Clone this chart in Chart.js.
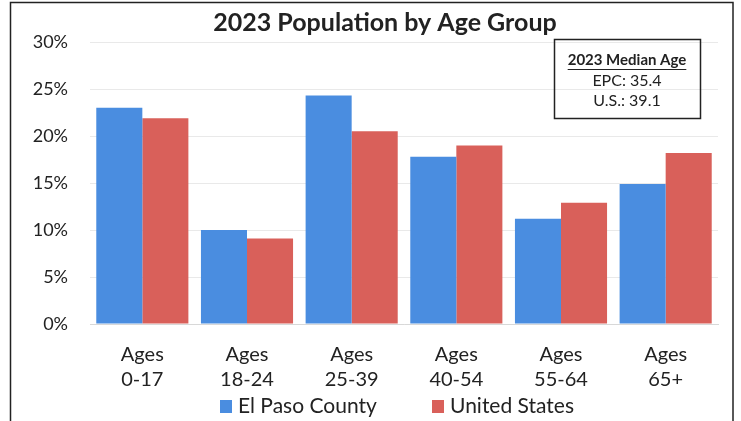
<!DOCTYPE html>
<html>
<head>
<meta charset="utf-8">
<script src="https://cdn.jsdelivr.net/npm/chart.js@4/dist/chart.umd.min.js"></script>
<style>
  html, body { margin: 0; padding: 0; background: #fff; }
  #wrap { width: 741px; height: 421px; position: relative; }
</style>
</head>
<body>
<div id="wrap"><canvas id="popChart" width="741" height="421"></canvas></div>
<script>
  // chart data
  const categories = [['Ages', '0-17'], ['Ages', '18-24'], ['Ages', '25-39'], ['Ages', '40-54'], ['Ages', '55-64'], ['Ages', '65+']];
  const elPasoValues = [23.0, 10.0, 24.3, 17.8, 11.2, 14.9];
  const usValues = [21.9, 9.1, 20.5, 19.0, 12.9, 18.2];
  const seriesNames = ['El Paso County', 'United States'];
  const medianLines = ['2023 Median Age', 'EPC: 35.4', 'U.S.: 39.1'];

  const BLUE = '#4a8de0';
  const RED = '#d9605a';
  const FONT = 'Lato, "Open Sans", sans-serif';

  // title, inset box, legend and frame drawn by hand
  const extras = {
    id: 'extras',
    afterDraw(chart) {
      const ctx = chart.ctx;
      ctx.save();
      // outer frame
      ctx.strokeStyle = '#222';
      ctx.lineWidth = 1.5;
      ctx.strokeRect(10.5, 2.5, 722.5, 430);

      // title
      ctx.fillStyle = '#222';
      ctx.font = 'bold 25px ' + FONT;
      ctx.textAlign = 'center';
      ctx.textBaseline = 'middle';
      ctx.fillText('2023 Population by Age Group', 385, 23);

      // median age box
      ctx.lineWidth = 1.5;
      ctx.strokeRect(554.5, 39.5, 146, 79);
      ctx.font = 'bold 15px ' + FONT;
      ctx.fillText(medianLines[0], 627, 60);
      const w = ctx.measureText(medianLines[0]).width;
      ctx.lineWidth = 1;
      ctx.beginPath();
      ctx.moveTo(627 - w / 2, 69.5);
      ctx.lineTo(627 + w / 2, 69.5);
      ctx.stroke();
      ctx.font = '16px ' + FONT;
      ctx.fillText(medianLines[1], 627, 81);
      ctx.fillText(medianLines[2], 627, 101);

      // legend
      ctx.font = '21px ' + FONT;
      ctx.textAlign = 'left';
      const items = [[220, BLUE, seriesNames[0]], [432, RED, seriesNames[1]]];
      items.forEach(([x, color, label]) => {
        ctx.fillStyle = color;
        ctx.fillRect(x, 400, 12, 13);
        ctx.fillStyle = '#222';
        ctx.fillText(label, x + 18, 406);
      });
      ctx.restore();
    }
  };

  new Chart(document.getElementById('popChart'), {
    type: 'bar',
    data: {
      labels: categories,
      datasets: [
        { label: seriesNames[0], data: elPasoValues, backgroundColor: BLUE },
        { label: seriesNames[1], data: usValues, backgroundColor: RED }
      ]
    },
    options: {
      responsive: false,
      animation: false,
      layout: { padding: { left: 10, right: 23, top: 42, bottom: 0 } },
      datasets: { bar: { categoryPercentage: 0.88, barPercentage: 1.0 } },
      plugins: {
        legend: { display: false },
        title: { display: false },
        tooltip: { enabled: false }
      },
      scales: {
        x: {
          grid: { display: false },
          border: { display: true, color: '#d8d8d8' },
          ticks: { color: '#222', font: { family: FONT, size: 20, lineHeight: 1.25 }, padding: 10, maxRotation: 0 },
          afterFit(scale) { scale.height = 97; }
        },
        y: {
          min: 0,
          max: 30,
          grid: { color: '#e9e9e9', drawTicks: false },
          border: { display: false },
          ticks: {
            stepSize: 5,
            color: '#222',
            padding: 22,
            font: { family: FONT, size: 18 },
            callback: v => v + '%'
          },
          afterFit(scale) { scale.width = 80; }
        }
      }
    },
    plugins: [extras]
  });
</script>
</body>
</html>
